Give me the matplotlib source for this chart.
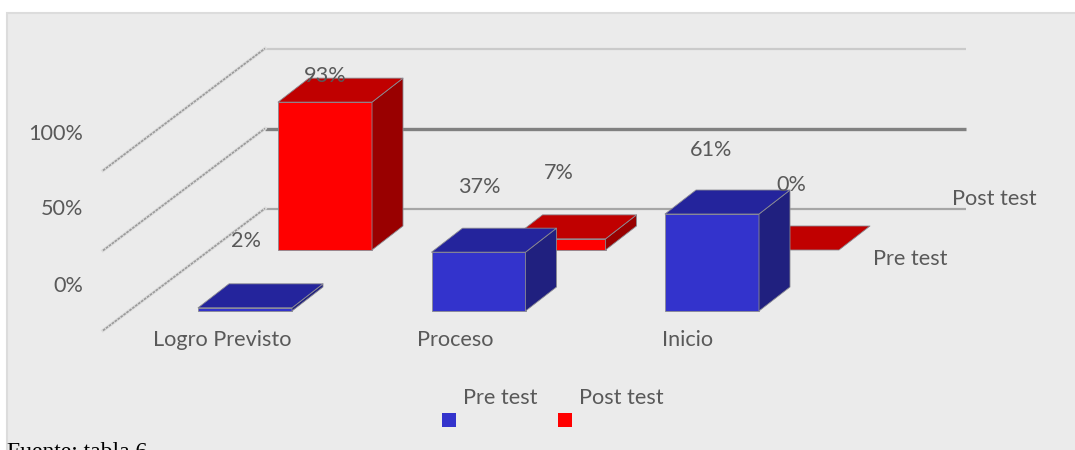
import matplotlib
matplotlib.use("Agg")
import matplotlib.pyplot as plt
from matplotlib.patches import Polygon, Rectangle

categories = ["Logro Previsto", "Proceso", "Inicio"]
pre_test = [2, 37, 61]
post_test = [93, 7, 0]
y_ticks = [0, 50, 100]
y_tick_labels = ["0%", "50%", "100%"]
series_names = ["Pre test", "Post test"]

# geometry of the fake 3d chart, in image pixels
BAR_W = 94
DEPTH_X = 31
DEPTH_Y = 24
PX_PER_PCT = 1.59
CAT_STEP = 233.5
PRE_X0, PRE_BASE = 198, 311
POST_X0, POST_BASE = 278, 250

BLUE = ("#3333cc", "#24249c", "#20207f")
RED = ("#ff0000", "#c00000", "#990000")
TEXT = "#595959"
FONT = "Lato"
FS = 15.6

plt.rcParams["font.family"] = [FONT, "DejaVu Sans"]

fig = plt.figure(figsize=(10.75, 4.5), dpi=100, facecolor="white")
ax = fig.add_axes([0, 0, 1, 1])
ax.set_xlim(0, 1075)
ax.set_ylim(450, 0)
ax.axis("off")

# panel background
ax.add_patch(Rectangle((6.5, 12.5), 1075, 450, facecolor="#ebebeb", edgecolor="#dcdcdc", lw=1.5, zorder=0))


def draw_bar(x, base, value, colors, zorder):
    h = value * PX_PER_PCT
    top = base - h
    x2 = x + BAR_W
    edge = dict(edgecolor="#8a8a92", lw=0.6, joinstyle="round", zorder=zorder)
    if h > 0:
        ax.add_patch(Polygon([(x, base), (x2, base), (x2, top), (x, top)], facecolor=colors[0], **edge))
        ax.add_patch(Polygon([(x2, base), (x2 + DEPTH_X, base - DEPTH_Y), (x2 + DEPTH_X, top - DEPTH_Y), (x2, top)],
                             facecolor=colors[2], **edge))
    ax.add_patch(Polygon([(x, top), (x2, top), (x2 + DEPTH_X, top - DEPTH_Y), (x + DEPTH_X, top - DEPTH_Y)],
                         facecolor=colors[1], **edge))


# grid lines, one per tick: wall line plus the diagonal on the side
wall_styles = [("#a6a6a6", 2.0), ("#808080", 3.0), ("#cacaca", 2.0)]
for tick, (col, lw) in zip(y_ticks, wall_styles):
    wall_y = 208.5 - tick * 1.6
    ax.plot([265, 966], [wall_y, wall_y], color=col, lw=lw * 0.8, zorder=1, solid_capstyle="butt")
    ax.plot([103, 265], [wall_y + 122, wall_y], color="#dcdcdc", lw=2.4, zorder=1)
    ax.plot([103, 265], [wall_y + 122, wall_y], color="#9a9a9a", lw=1.2, ls=(0, (1.6, 0.6)), zorder=1)

for i, v in enumerate(post_test):
    draw_bar(POST_X0 + i * CAT_STEP, POST_BASE, v, RED, 2 + i)
for i, v in enumerate(pre_test):
    draw_bar(PRE_X0 + i * CAT_STEP, PRE_BASE, v, BLUE, 5 + i)

# value labels, placed by hand like the original
pre_label_xy = [(246, 241), (479, 187), (711, 150)]
post_label_xy = [(325, 76), (559, 173), (791, 185)]
for v, (x, y) in zip(pre_test, pre_label_xy):
    ax.text(x, y, f"{v}%", ha="center", va="center", fontsize=FS, color=TEXT, zorder=10)
for v, (x, y) in zip(post_test, post_label_xy):
    ax.text(x, y, f"{v}%", ha="center", va="center", fontsize=FS, color=TEXT, zorder=10)

for lab, y in zip(y_tick_labels, [286, 209, 134]):
    ax.text(83, y, lab, ha="right", va="center", fontsize=FS, color=TEXT)

for i, c in enumerate(categories):
    ax.text(x=[222, 455, 688][i], y=340, s=c, ha="center", va="center", fontsize=FS, color=TEXT)

# series names on the depth axis
ax.text(873, 259, series_names[0], ha="left", va="center", fontsize=FS, color=TEXT, zorder=10)
ax.text(952, 199, series_names[1], ha="left", va="center", fontsize=FS, color=TEXT, zorder=10)

# legend
ax.text(500, 398, series_names[0], ha="center", va="center", fontsize=FS, color=TEXT)
ax.text(621, 398, series_names[1], ha="center", va="center", fontsize=FS, color=TEXT)
ax.add_patch(Rectangle((442, 413), 14, 14, facecolor=BLUE[0], edgecolor="none"))
ax.add_patch(Rectangle((558, 413), 14, 14, facecolor=RED[0], edgecolor="none"))

# caption cut off by the bottom of the image
ax.text(7, 442, "Fuente: tabla 6", ha="left", va="top", fontsize=17, color="black",
        family="Liberation Serif", clip_on=False)

fig.savefig("out.png", dpi=100)
